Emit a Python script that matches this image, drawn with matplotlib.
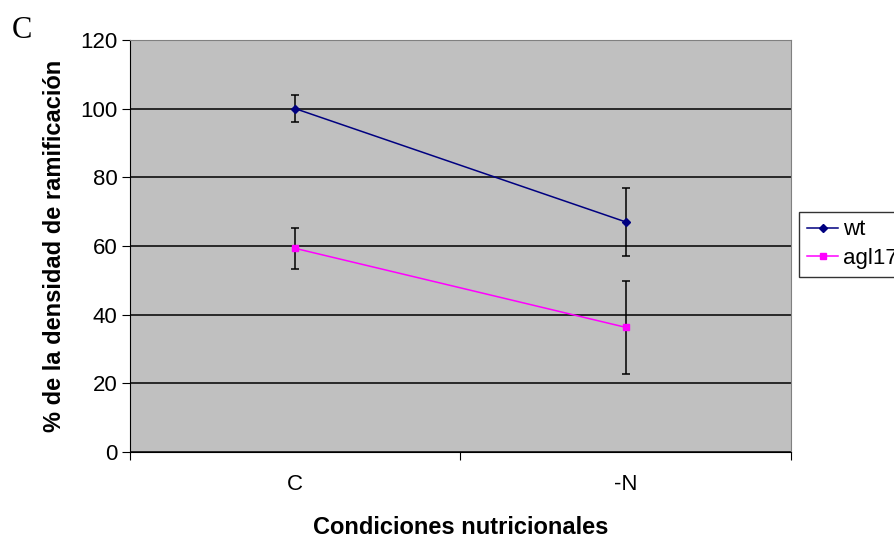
import numpy as np
import matplotlib.pyplot as plt
from matplotlib.lines import Line2D

plt.rcParams['font.family'] = ['Liberation Sans', 'DejaVu Sans']

# branching density (% of wt control) per nutritional condition
conditions = ['C', '-N']
wt = [100, 67]
wt_err = [4, 10]
agl17 = [59.3, 36.3]
agl17_err = [6, 13.5]

fig = plt.figure(figsize=(8.94, 5.4), dpi=100)
ax = fig.add_axes([0.1454, 0.163, 0.7394, 0.763])
ax.set_facecolor('#C0C0C0')

x = np.arange(len(conditions))
ax.errorbar(x, wt, yerr=wt_err, color='#000080', marker='D', ms=4.5,
            lw=1.1, ecolor='black', elinewidth=1.1, capsize=3, capthick=1.1)
ax.errorbar(x, agl17, yerr=agl17_err, color='#FF00FF', marker='s', ms=5,
            lw=1.1, ecolor='black', elinewidth=1.1, capsize=3, capthick=1.1)

ax.set_xlim(-0.5, 1.5)
ax.set_ylim(0, 120)
ax.set_yticks(np.arange(0, 121, 20))
ax.yaxis.grid(True, color='black', lw=1.1)
ax.set_axisbelow(True)

# category ticks between groups, labels centred on points
ax.set_xticks([-0.5, 0.5, 1.5])
ax.set_xticklabels([])
ax.set_xticks(x, minor=True)
ax.set_xticklabels(conditions, minor=True)
ax.tick_params(axis='x', which='minor', length=0, pad=16, labelsize=16)
ax.tick_params(axis='x', which='major', length=6, direction='out')
ax.tick_params(axis='y', length=6, direction='out', labelsize=16, pad=3)

for side in ['top', 'right']:
    ax.spines[side].set_color('#808080')
ax.spines['left'].set_color('black')
ax.spines['bottom'].set_color('black')

ax.set_xlabel('Condiciones nutricionales', fontsize=17, fontweight='bold', labelpad=15)
ax.set_ylabel('% de la densidad de ramificación', fontsize=17, fontweight='bold', labelpad=10)

fig.text(0.013, 0.93, 'C', fontsize=22, family=['Liberation Serif', 'DejaVu Serif'])

handles = [Line2D([], [], color='#000080', marker='D', ms=4.5, lw=1.1),
           Line2D([], [], color='#FF00FF', marker='s', ms=5, lw=1.1)]
leg = fig.legend(handles, ['wt', 'agl17'], loc='upper left',
                 bbox_to_anchor=(0.894, 0.608), fontsize=16, frameon=True,
                 fancybox=False, edgecolor='black', handlelength=1.4,
                 handletextpad=0.2, borderpad=0.35, labelspacing=0.35,
                 borderaxespad=0)
leg.get_frame().set_linewidth(1.0)

fig.savefig('out.png', dpi=100)
